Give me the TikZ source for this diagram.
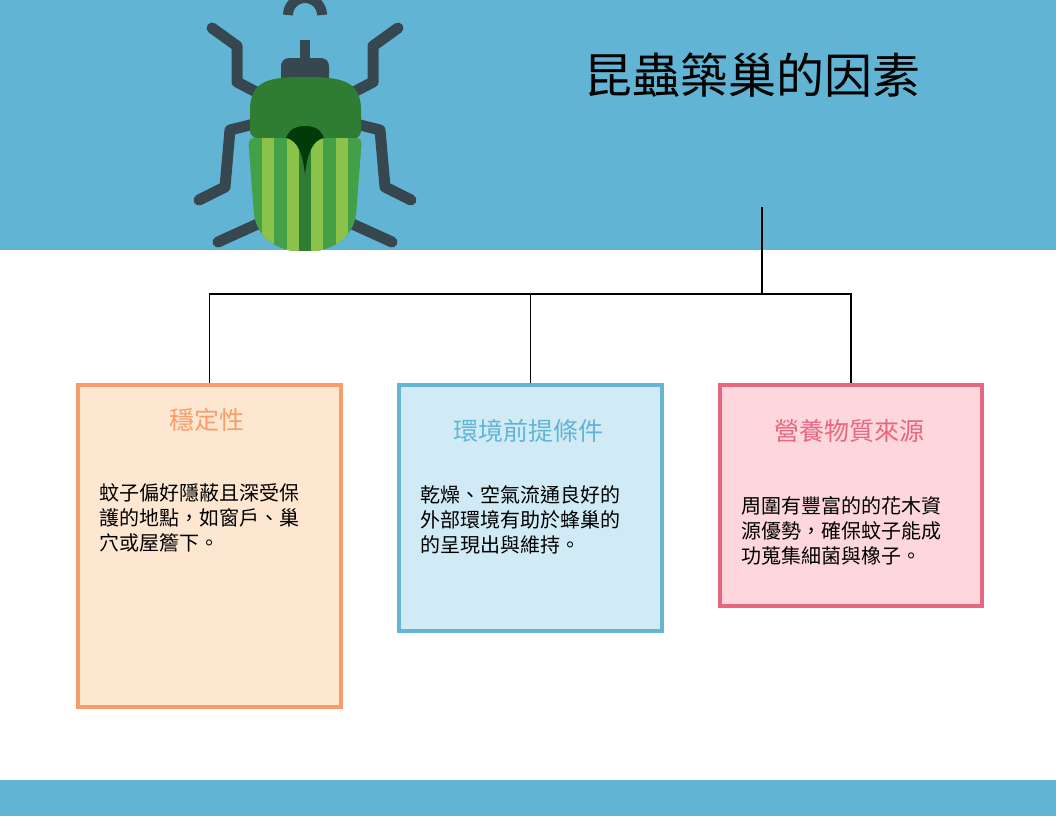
\documentclass[tikz,border=0pt]{standalone}
\usepackage{fontspec}
\setmainfont{Noto Sans CJK TC}
\definecolor{band}{HTML}{62B4D4}
\definecolor{leg}{HTML}{37474F}
\definecolor{dg}{HTML}{2E7D32}
\definecolor{mg}{HTML}{43A047}
\definecolor{lg}{HTML}{8BC34A}
\definecolor{vdg}{HTML}{033A0A}
\definecolor{ob}{HTML}{F89C6B}\definecolor{of}{HTML}{FEE7D1}
\definecolor{bb}{HTML}{63B5D6}\definecolor{bf}{HTML}{D0EBF5}
\definecolor{pb}{HTML}{E8677F}\definecolor{pf}{HTML}{FDD7DC}
\tikzset{
 card/.style={line width=3.5pt,anchor=north west,inner sep=0pt},
 ctitle/.style={font=\fontsize{25}{30}\selectfont},
 cbody/.style={font=\fontsize{20}{25}\selectfont,align=left,anchor=north west,inner sep=0pt},
 conn/.style={line width=1.5pt},
 legl/.style={leg,line width=11pt,line cap=round,line join=round}
}
\begin{document}
\begin{tikzpicture}[x=1pt,y=-1pt]
\useasboundingbox (0,0) rectangle (1056,816);
\fill[band] (0,0) rectangle (1056,250);
\fill[band] (0,780) rectangle (1056,816);
% beetle
\begin{scope}
\clip (0,0) rectangle (1056,250);
\draw[legl] (212,28)--(237,46)--(237,82)--(262,95);
\draw[legl] (398,28)--(373,46)--(373,82)--(348,95);
\draw[legl] (262,122)--(230,130)--(225,187)--(199,200);
\draw[legl] (348,122)--(380,130)--(385,187)--(411,200);
\draw[legl] (262,222)--(218,242);
\draw[legl] (348,222)--(392,242);
\draw[leg,line width=10pt] (288,15) arc (180:360:17);
\draw[leg,line width=10pt] (305,40)--(305,62);
\fill[leg,rounded corners=8pt] (281,58) rectangle (329,90);
\fill[dg] (250,138) -- (250,110) .. controls (250,80) and (270,77) .. (305,77) .. controls (340,77) and (361,80) .. (361,110) -- (361,130) .. controls (361,138) and (355,139) .. (350,139) -- (260,139) .. controls (255,139) and (250,136) .. (250,130) -- cycle;
\begin{scope}
\clip (254,138) -- (300,138) -- (305,160) -- (310,138) -- (356,138) .. controls (362,138) and (362,142) .. (361,150) -- (356,215) .. controls (352,240) and (330,252) .. (305,252) .. controls (280,252) and (258,240) .. (254,215) -- (249,150) .. controls (248,142) and (249,138) .. (254,138) -- cycle;
\fill[mg] (240,130) rectangle (370,260);
\fill[lg] (262,130) rectangle (274,260);
\fill[lg] (287,130) rectangle (299,260);
\fill[dg] (299,130) rectangle (311,260);
\fill[lg] (311,130) rectangle (323,260);
\fill[lg] (336,130) rectangle (348,260);
\end{scope}
\fill[vdg] (286,138) .. controls (290,128) and (297,126) .. (305,126) .. controls (313,126) and (320,128) .. (324,138) .. controls (312,140) and (307,155) .. (305,175) .. controls (303,155) and (298,140) .. (286,138) -- cycle;
\end{scope}
\node[font=\fontsize{48}{56}\selectfont] (title) at (752,75) {昆蟲築巢的因素};
% cards
\node[card,draw=ob,fill=of,minimum width=263pt,minimum height=322pt] (c1) at (76,383) {};
\node[card,draw=bb,fill=bf,minimum width=263pt,minimum height=246pt] (c2) at (397,383) {};
\node[card,draw=pb,fill=pf,minimum width=262pt,minimum height=221pt] (c3) at (718,383) {};
\node[ctitle,text=ob] (t1) at (207,420) {穩定性};
\node[ctitle,text=bb] (t2) at (528,431) {環境前提條件};
\node[ctitle,text=pb] (t3) at (849,431) {營養物質來源};
\node[cbody] (b1) at (99,483) {蚊子偏好隱蔽且深受保\\護的地點，如窗戶、巢\\穴或屋簷下。};
\node[cbody] (b2) at (420,485) {乾燥、空氣流通良好的\\外部環境有助於蜂巢的\\的呈現出與維持。};
\node[cbody] (b3) at (741,496) {周圍有豐富的的花木資\\源優勢，確保蚊子能成\\功蒐集細菌與橡子。};
\coordinate (top) at (762,207);
\coordinate (hub) at (762,294);
\draw[conn] (top)--(hub);
\draw[conn] (c1.north) |- (hub);
\draw[conn] (c3.north) |- (hub);
\draw[conn] (c2.north) -- (c2.north |- hub);
\end{tikzpicture}
\end{document}
